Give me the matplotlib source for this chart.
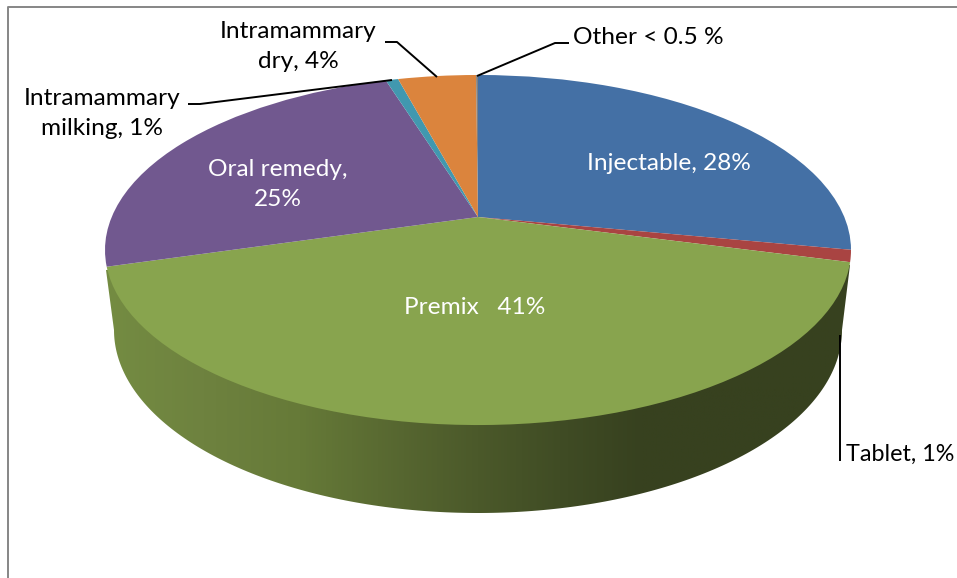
import numpy as np
import matplotlib
matplotlib.use('Agg')
import matplotlib.pyplot as plt
from matplotlib.colors import LinearSegmentedColormap
from matplotlib.patches import Polygon
from matplotlib.transforms import Transform

# slices, clockwise from the top
names = ['Injectable', 'Tablet', 'Premix', 'Oral remedy',
         'Intramammary milking', 'Intramammary dry', 'Other']
shares = [28, 1.1, 41.4, 24.7, 0.65, 4.05, 0.1]
colors = ['#4470A5', '#A94442', '#88A44E', '#71588F', '#4198AF', '#DB843D', '#808080']

# centre of the pie and perspective of the tilted disc, in pixels
cx, cy = 478, 217
A, B, k = 366.3, 168.8, 0.1886


class Tilt(Transform):
    input_dims = 2
    output_dims = 2

    def transform_non_affine(self, values):
        values = np.asarray(values)
        w = 1 + k * values[:, 1]
        return np.column_stack((cx + A * values[:, 0] / w, cy - B * values[:, 1] / w))


plt.rcParams['font.family'] = ['Lato', 'DejaVu Sans']
fig = plt.figure(figsize=(9.57, 5.78), dpi=100)
ax = fig.add_axes([0, 0, 1, 1])

wedges, _ = ax.pie(shares, colors=colors, startangle=90, counterclock=False)
tilt = Tilt()
for w in wedges:
    w.set_transform(tilt + ax.transData)
    w.set_linewidth(0)
    w.set_zorder(3)

# side wall: rim of the disc pushed down and drawn under the top face
t = np.radians(np.linspace(180, 360, 200))
rim_x = 478 + 364 * np.cos(t)
rim_y = 330 - 183 * np.sin(t)
wall = Polygon(np.vstack(([[106, 270]], np.column_stack((rim_x, rim_y)), [[850, 265]])),
               closed=True, transform=ax.transData, fc='none', ec='none')
ax.add_patch(wall)
stops = [(0.0, '#748C42'), (0.13, '#6E823F'), (0.26, '#667A38'), (0.40, '#566630'),
         (0.50, '#4B592A'), (0.62, '#3F4B24'), (0.72, '#37411F'), (1.0, '#37411F')]
shade = LinearSegmentedColormap.from_list('wall', stops)
img = ax.imshow(np.linspace(0, 1, 512).reshape(1, -1), cmap=shade, aspect='auto',
                extent=(105, 851, 520, 260), zorder=2)
img.set_clip_path(wall)

# frame of the chart area, only the left and top edges are in the crop
ax.plot([8, 8, 957], [578, 6.5, 6.5], color='#868686', lw=1.4, zorder=1)

# leader lines
leaders = [([385, 397, 437], [42, 42, 77]),
           ([188, 200, 392], [104, 104, 80]),
           ([569, 555, 477], [43, 43, 76]),
           ([840, 840], [335, 461])]
for lx, ly in leaders:
    ax.plot(lx, ly, color='black', lw=1.4, zorder=4, solid_capstyle='butt')

fs = 17.6
ax.text(669, 163.5, 'Injectable, 28%', color='white', fontsize=fs, ha='center', va='center', zorder=5)
ax.text(278, 184.5, 'Oral remedy,\n25%', color='white', fontsize=fs, ha='center', va='center',
        linespacing=1.5, zorder=5)
ax.text(475, 307.5, 'Premix   41%', color='white', fontsize=fs, ha='center', va='center', zorder=5)
ax.text(298, 46.5, 'Intramammary\ndry, 4%', color='black', fontsize=fs, ha='center', va='center',
        linespacing=1.5, zorder=5)
ax.text(102, 113.5, 'Intramammary\nmilking, 1%', color='black', fontsize=fs, ha='center', va='center',
        linespacing=1.5, zorder=5)
ax.text(573, 37.5, 'Other < 0.5 %', color='black', fontsize=fs, ha='left', va='center', zorder=5)
# a little smaller than the others so it stays inside the canvas
ax.text(846, 454.5, 'Tablet, 1%', color='black', fontsize=16.8, ha='left', va='center', zorder=5)

ax.set_aspect('auto')
ax.set_xlim(0, 957)
ax.set_ylim(578, 0)
ax.axis('off')

fig.savefig('out.png', dpi=100, facecolor='white')
